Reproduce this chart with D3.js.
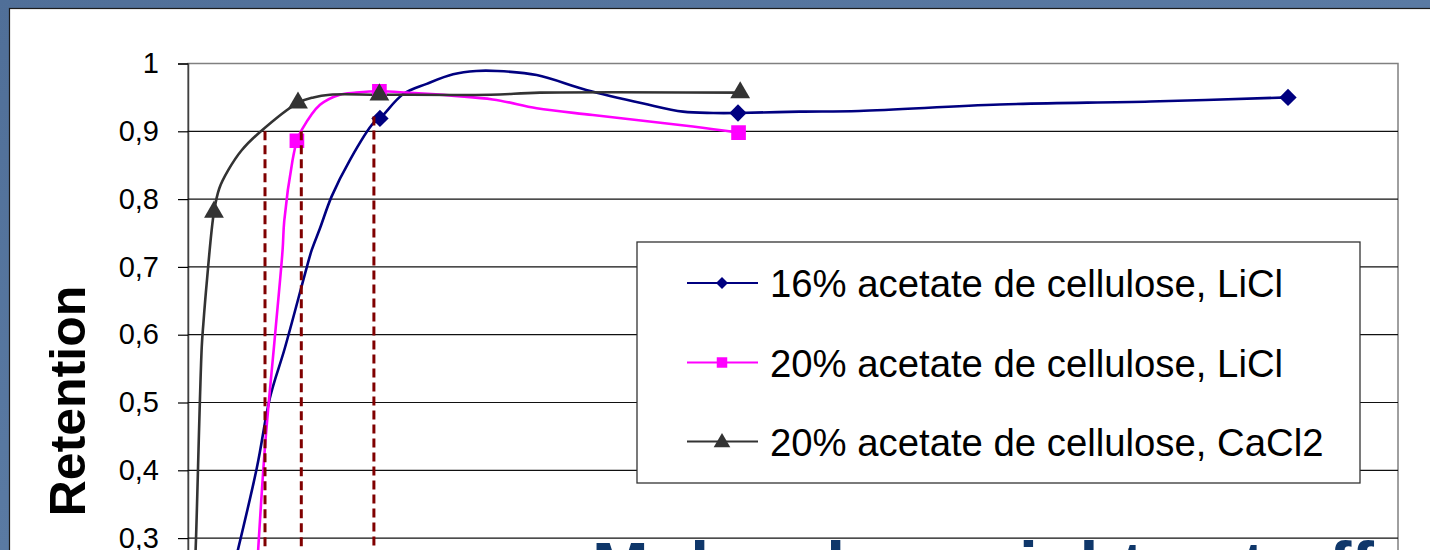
<!DOCTYPE html>
<html>
<head>
<meta charset="utf-8">
<script src="https://cdn.jsdelivr.net/npm/d3@7"></script>
<style>
  html, body { margin: 0; padding: 0; background: #4b6d98; }
  svg { display: block; }
</style>
</head>
<body>
<svg id="chart" width="1430" height="550"></svg>
<script>
// Molecular weight (kDa) / retention pairs for the fitted curves
const curveLiCl16 = [
  [3.6, 0.22], [6.25, 0.403], [7.45, 0.507], [8.8, 0.58], [10.79, 0.699],
  [11.25, 0.725], [12.0, 0.757], [13.06, 0.804], [14.73, 0.858], [16.85, 0.912],
  [17.45, 0.919], [19.57, 0.955], [21.7, 0.97], [24.1, 0.984], [26.2, 0.989],
  [28.1, 0.989], [31.7, 0.983], [36.2, 0.961], [41.4, 0.941], [45.0, 0.929],
  [47.75, 0.927], [50.0, 0.927], [55.6, 0.929], [61.0, 0.930], [73.8, 0.9395],
  [87.5, 0.944], [100, 0.950]
];
const curveLiCl20 = [
  [6.15, 0.22], [7.0, 0.435], [7.9, 0.597], [8.6, 0.725], [8.75, 0.768],
  [9.5, 0.857], [9.9, 0.886], [10.34, 0.902], [12.0, 0.939], [13.8, 0.954],
  [15.3, 0.957], [17.4, 0.959], [19.9, 0.957], [27.7, 0.947], [31.7, 0.934],
  [36.8, 0.924], [45.9, 0.907], [50.05, 0.898]
];
const curveCaCl20 = [
  [0.55, 0.22], [0.73, 0.30], [1.25, 0.582], [1.4, 0.617], [1.7, 0.676],
  [2.36, 0.781], [2.85, 0.816], [3.67, 0.843], [4.88, 0.872], [6.55, 0.899],
  [10.0, 0.942], [11.4, 0.95], [12.9, 0.954], [17.4, 0.954], [27.5, 0.954],
  [32.0, 0.957], [50.2, 0.957]
];

// Measured points (drawn with markers)
const pointsLiCl16 = [[17.45, 0.919], [50.0, 0.927], [100, 0.950]];
const pointsLiCl20 = [[9.9, 0.886], [17.4, 0.959], [50.05, 0.898]];
const pointsCaCl20 = [[2.36, 0.781], [10.0, 0.942], [17.4, 0.954], [50.2, 0.957]];

// Cut-off guides: molecular weight and the retention they start from
const cutoffMW = [7.0, 10.3, 16.9];
const cutoffTop = [0.9, 0.9, 0.922];

const seriesNames = [
  "16% acetate de cellulose, LiCl",
  "20% acetate de cellulose, LiCl",
  "20% acetate de cellulose, CaCl2"
];
const yTickValues = [0, 0.1, 0.2, 0.3, 0.4, 0.5, 0.6, 0.7, 0.8, 0.9, 1];
const yTitle = "Retention";
const slideTitle = "Molecular weight cut-off";

const svg = d3.select("#chart");
const W = 1430, H = 550;
const plot = { left: 188, top: 63.5, right: 1398, bottom: 741.5 };

const x = d3.scaleLinear().domain([0, 110]).range([plot.left, plot.right]);
const y = d3.scaleLinear().domain([0, 1]).range([plot.bottom, plot.top]);

// slide background
const defs = svg.append("defs");
const bg = defs.append("linearGradient").attr("id", "bgGrad")
  .attr("x1", "0").attr("y1", "0").attr("x2", "1").attr("y2", "1");
bg.append("stop").attr("offset", "0").attr("stop-color", "#506f98");
bg.append("stop").attr("offset", "0.5").attr("stop-color", "#5a7aa3");
bg.append("stop").attr("offset", "1").attr("stop-color", "#4a6a94");
svg.append("rect").attr("width", W).attr("height", H).attr("fill", "url(#bgGrad)");

// white chart panel
svg.append("rect")
  .attr("x", 9.5).attr("y", 8.5).attr("width", W + 20).attr("height", H + 20)
  .attr("fill", "#ffffff").attr("stroke", "#1c1c1c").attr("stroke-width", 1.2);

defs.append("clipPath").attr("id", "plotClip").append("rect")
  .attr("x", plot.left).attr("y", plot.top - 15)
  .attr("width", plot.right - plot.left).attr("height", plot.bottom - plot.top + 15);

// plot area frame
svg.append("rect")
  .attr("x", plot.left).attr("y", plot.top)
  .attr("width", plot.right - plot.left).attr("height", plot.bottom - plot.top)
  .attr("fill", "#ffffff").attr("stroke", "#808080").attr("stroke-width", 1.5);

// y axis with horizontal gridlines
const fmt = d => d === 1 ? "1" : d === 0 ? "0" : d3.format(".1f")(d).replace(".", ",");
const yAxis = svg.append("g")
  .attr("transform", `translate(${plot.left},0)`)
  .call(d3.axisLeft(y).tickValues(yTickValues).tickFormat(fmt).tickSize(10).tickPadding(19));
yAxis.select(".domain").attr("stroke", "#404040").attr("stroke-width", 1.5);
yAxis.selectAll(".tick line").attr("stroke", "#000").attr("stroke-width", 1.2);
yAxis.selectAll(".tick text")
  .attr("font-family", "'Liberation Sans', Arial, sans-serif")
  .attr("font-size", 29).attr("fill", "#000");

svg.append("g").selectAll("line.grid")
  .data(yTickValues.filter(v => v < 1))
  .join("line")
  .attr("x1", plot.left).attr("x2", plot.right)
  .attr("y1", d => y(d)).attr("y2", d => y(d))
  .attr("stroke", "#111").attr("stroke-width", 1.2);

// curves
const line = d3.line().x(d => x(d[0])).y(d => y(d[1])).curve(d3.curveCatmullRom.alpha(0.5));
const colors = ["#000080", "#ff00ff", "#333333"];
const curves = [curveLiCl16, curveLiCl20, curveCaCl20];
const points = [pointsLiCl16, pointsLiCl20, pointsCaCl20];
const symbols = [d3.symbolSquare, d3.symbolSquare, d3.symbolTriangle];
const symbolRotate = [45, 0, 0];
const symbolSize = [150, 215, 170];
const legendSymbolSize = [72, 110, 120];

const gData = svg.append("g").attr("clip-path", "url(#plotClip)");
curves.forEach((c, i) => {
  gData.append("path").datum(c)
    .attr("d", line).attr("fill", "none")
    .attr("stroke", colors[i]).attr("stroke-width", 2.6)
    .attr("stroke-linejoin", "round");
});
points.forEach((p, i) => {
  gData.selectAll(null).data(p).join("path")
    .attr("transform", d => `translate(${x(d[0])},${y(d[1])}) rotate(${symbolRotate[i]})`)
    .attr("d", d3.symbol(symbols[i], symbolSize[i]))
    .attr("fill", colors[i]);
});

// dashed cut-off guides
svg.append("g").selectAll("line")
  .data(cutoffMW.map((m, i) => [m, cutoffTop[i]]))
  .join("line")
  .attr("x1", d => x(d[0])).attr("x2", d => x(d[0]))
  .attr("y1", d => y(d[1])).attr("y2", H + 10)
  .attr("stroke", "#800000").attr("stroke-width", 3)
  .attr("stroke-dasharray", "9,5");

// legend
const lg = svg.append("g");
lg.append("rect")
  .attr("x", 637).attr("y", 242).attr("width", 723).attr("height", 241)
  .attr("fill", "#fff").attr("stroke", "#333").attr("stroke-width", 1.3);
const rowY = [283, 362.5, 441.5];
seriesNames.forEach((name, i) => {
  lg.append("line")
    .attr("x1", 687).attr("x2", 758).attr("y1", rowY[i]).attr("y2", rowY[i])
    .attr("stroke", colors[i]).attr("stroke-width", 2.2);
  lg.append("path")
    .attr("transform", `translate(722,${rowY[i] + (i === 2 ? 1 : 0)}) rotate(${symbolRotate[i]})`)
    .attr("d", d3.symbol(symbols[i], legendSymbolSize[i]))
    .attr("fill", colors[i]);
  lg.append("text")
    .attr("x", 770).attr("y", rowY[i] + 14)
    .attr("font-family", "'Liberation Sans', Arial, sans-serif")
    .attr("font-size", 38.3).attr("fill", "#000")
    .text(name);
});

// y axis title
svg.append("text")
  .attr("transform", "translate(85,401) rotate(-90)")
  .attr("text-anchor", "middle")
  .attr("font-family", "'Liberation Sans', Arial, sans-serif")
  .attr("font-weight", "bold").attr("font-size", 50).attr("fill", "#000")
  .text(yTitle);

// slide title running along the bottom
svg.append("text")
  .attr("x", 592).attr("y", 590)
  .attr("font-family", "'Liberation Sans', Arial, sans-serif")
  .attr("font-weight", "bold").attr("font-size", 68).attr("fill", "#0f376a")
  .text(slideTitle);
</script>
</body>
</html>
